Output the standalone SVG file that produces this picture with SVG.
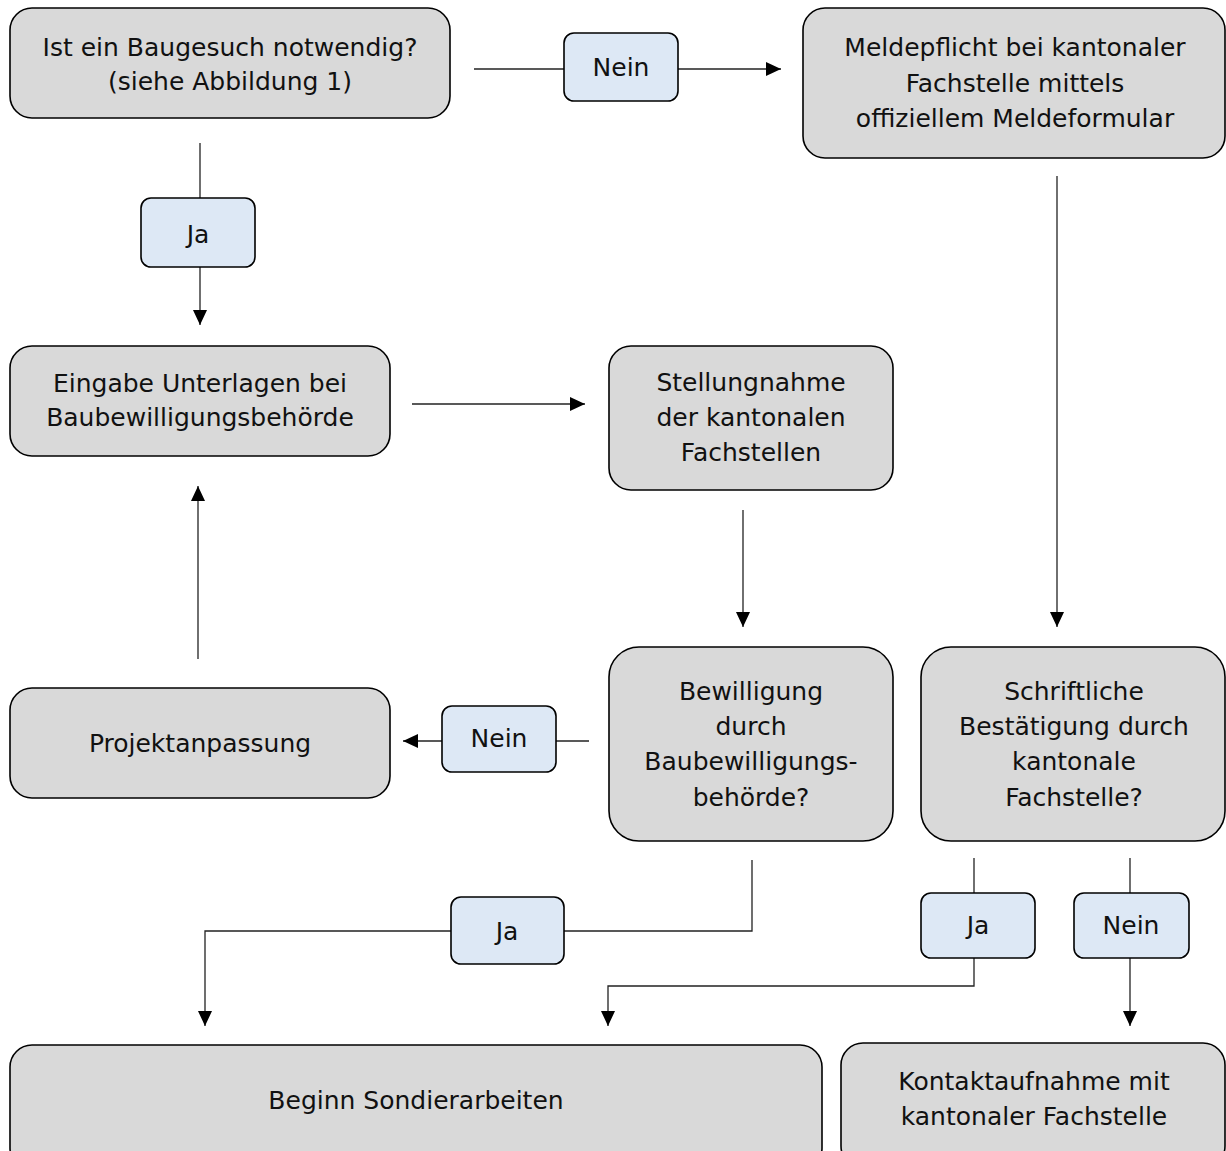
<svg xmlns="http://www.w3.org/2000/svg" width="1226" height="1151" viewBox="0 0 1226 1151">
<defs>
<marker id="arr" markerUnits="userSpaceOnUse" markerWidth="16" markerHeight="16" refX="15" refY="7" orient="auto">
<path d="M0,0 L15,7 L0,14 z" fill="#000"/>
</marker>
<style>
.node{fill:#d9d9d9;stroke:#000;stroke-width:1.6}
.lab{fill:#dde8f5;stroke:#000;stroke-width:1.6}
.t{font-family:"DejaVu Sans",sans-serif;font-size:25px;fill:#111;text-anchor:middle}
.c{fill:none;stroke:#222;stroke-width:1.3}
.a{marker-end:url(#arr)}
</style>
</defs>
<rect width="1226" height="1151" fill="#fff"/>
<g id="connectors">
<path class="c" d="M474,69 H564"/>
<path class="c a" d="M678,69 H781"/>
<path class="c" d="M200,143 V198"/>
<path class="c a" d="M200,267 V325"/>
<path class="c a" d="M412,404 H585"/>
<path class="c a" d="M743,510 V627"/>
<path class="c a" d="M1057,176 V627"/>
<path class="c" d="M589,741 H556"/>
<path class="c a" d="M442,741 H403"/>
<path class="c a" d="M198,659 V486"/>
<path class="c" d="M752,860 V931 H564"/>
<path class="c a" d="M451,931 H205 V1026"/>
<path class="c" d="M974,858 V893"/>
<path class="c a" d="M974,958 V986 H608 V1026"/>
<path class="c" d="M1130,858 V893"/>
<path class="c a" d="M1130,958 V1026"/>
</g>
<g id="n1"><rect class="node" x="10" y="8" width="440" height="110" rx="22"/><text class="t" x="230" y="56">Ist ein Baugesuch notwendig?</text><text class="t" x="230" y="90">(siehe Abbildung 1)</text></g>
<g id="n2"><rect class="node" x="803" y="8" width="422" height="150" rx="22"/><text class="t" x="1015" y="56">Meldepflicht bei kantonaler</text><text class="t" x="1015" y="92">Fachstelle mittels</text><text class="t" x="1015" y="127">offiziellem Meldeformular</text></g>
<g id="n3"><rect class="node" x="10" y="346" width="380" height="110" rx="22"/><text class="t" x="200" y="392">Eingabe Unterlagen bei</text><text class="t" x="200" y="426">Baubewilligungsbehörde</text></g>
<g id="n4"><rect class="node" x="609" y="346" width="284" height="144" rx="22"/><text class="t" x="751" y="391">Stellungnahme</text><text class="t" x="751" y="426">der kantonalen</text><text class="t" x="751" y="461">Fachstellen</text></g>
<g id="n5"><rect class="node" x="609" y="647" width="284" height="194" rx="30"/><text class="t" x="751" y="700">Bewilligung</text><text class="t" x="751" y="735">durch</text><text class="t" x="751" y="770">Baubewilligungs-</text><text class="t" x="751" y="806">behörde?</text></g>
<g id="n6"><rect class="node" x="921" y="647" width="304" height="194" rx="30"/><text class="t" x="1074" y="700">Schriftliche</text><text class="t" x="1074" y="735">Bestätigung durch</text><text class="t" x="1074" y="770">kantonale</text><text class="t" x="1074" y="806">Fachstelle?</text></g>
<g id="n7"><rect class="node" x="10" y="688" width="380" height="110" rx="22"/><text class="t" x="200" y="752">Projektanpassung</text></g>
<g id="n8"><rect class="node" x="10" y="1045" width="812" height="125" rx="22"/><text class="t" x="416" y="1109">Beginn Sondierarbeiten</text></g>
<g id="n9"><rect class="node" x="841" y="1043" width="384" height="125" rx="22"/><text class="t" x="1034" y="1090">Kontaktaufnahme mit</text><text class="t" x="1034" y="1125">kantonaler Fachstelle</text></g>
<g id="l1"><rect class="lab" x="564" y="33" width="114" height="68" rx="10"/><text class="t" x="621" y="76">Nein</text></g>
<g id="l2"><rect class="lab" x="141" y="198" width="114" height="69" rx="10"/><text class="t" x="198" y="243">Ja</text></g>
<g id="l3"><rect class="lab" x="442" y="706" width="114" height="66" rx="10"/><text class="t" x="499" y="747">Nein</text></g>
<g id="l4"><rect class="lab" x="451" y="897" width="113" height="67" rx="10"/><text class="t" x="507" y="940">Ja</text></g>
<g id="l5"><rect class="lab" x="921" y="893" width="114" height="65" rx="10"/><text class="t" x="978" y="934">Ja</text></g>
<g id="l6"><rect class="lab" x="1074" y="893" width="115" height="65" rx="10"/><text class="t" x="1131" y="934">Nein</text></g>
</svg>
